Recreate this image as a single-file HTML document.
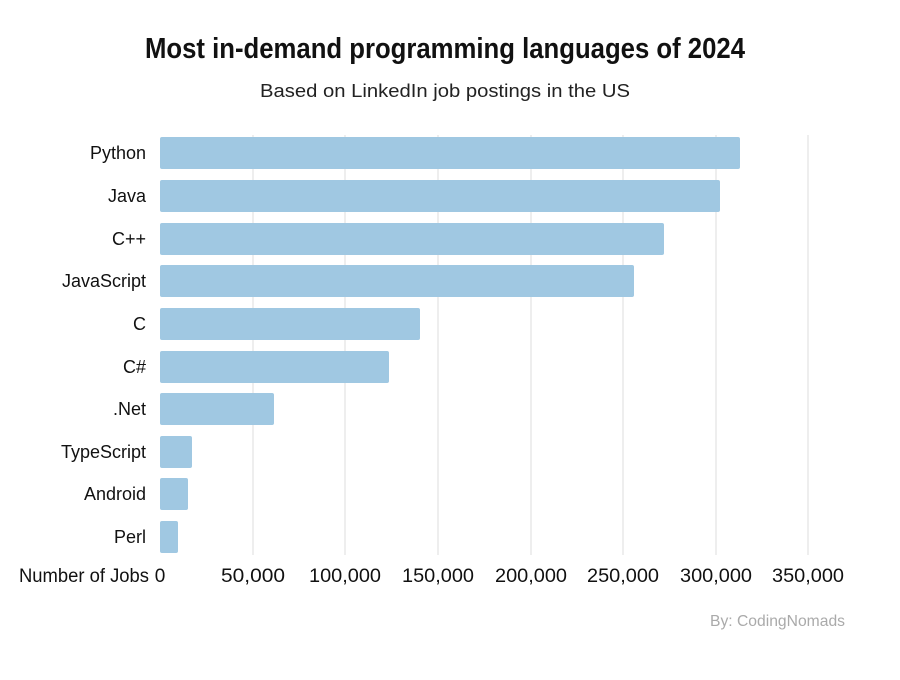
<!DOCTYPE html>
<html><head><meta charset="utf-8"><style>
body{margin:0;background:#fff;}
svg text{font-family:"Liberation Sans",sans-serif;}
</style></head><body>
<svg width="900" height="675" xmlns="http://www.w3.org/2000/svg">
<rect width="900" height="675" fill="#fff"/>
<text x="445" y="58" text-anchor="middle" font-size="29" font-weight="bold" fill="#111" textLength="600" lengthAdjust="spacingAndGlyphs">Most in-demand programming languages of 2024</text>
<text x="445" y="97" text-anchor="middle" font-size="18" fill="#222" textLength="370" lengthAdjust="spacingAndGlyphs">Based on LinkedIn job postings in the US</text>
<g stroke="#dcdcdc" stroke-width="1">
<line x1="253" y1="135" x2="253" y2="555"/><line x1="345" y1="135" x2="345" y2="555"/>
<line x1="438" y1="135" x2="438" y2="555"/><line x1="531" y1="135" x2="531" y2="555"/>
<line x1="623" y1="135" x2="623" y2="555"/><line x1="716" y1="135" x2="716" y2="555"/>
<line x1="808" y1="135" x2="808" y2="555"/>
</g>
<g fill="#a0c8e2">
<rect x="160" y="137" width="580" height="32" rx="2"/>
<rect x="160" y="180" width="560" height="32" rx="2"/>
<rect x="160" y="223" width="504" height="32" rx="2"/>
<rect x="160" y="265" width="474" height="32" rx="2"/>
<rect x="160" y="308" width="260" height="32" rx="2"/>
<rect x="160" y="351" width="229" height="32" rx="2"/>
<rect x="160" y="393" width="114" height="32" rx="2"/>
<rect x="160" y="436" width="32" height="32" rx="2"/>
<rect x="160" y="478" width="28" height="32" rx="2"/>
<rect x="160" y="521" width="18" height="32" rx="2"/>
</g>
<g font-size="18" fill="#111" text-anchor="end">
<text x="146" y="159">Python</text>
<text x="146" y="202">Java</text>
<text x="146" y="245">C++</text>
<text x="146" y="287">JavaScript</text>
<text x="146" y="330">C</text>
<text x="146" y="373">C#</text>
<text x="146" y="415">.Net</text>
<text x="146" y="458">TypeScript</text>
<text x="146" y="500">Android</text>
<text x="146" y="543">Perl</text>
</g>
<g font-size="19" fill="#111" text-anchor="middle">
<text x="19" y="582" text-anchor="start" textLength="130" lengthAdjust="spacingAndGlyphs">Number of Jobs</text>
<text x="160" y="582">0</text>
<text x="253" y="582" textLength="64" lengthAdjust="spacingAndGlyphs">50,000</text>
<text x="345" y="582" textLength="72" lengthAdjust="spacingAndGlyphs">100,000</text>
<text x="438" y="582" textLength="72" lengthAdjust="spacingAndGlyphs">150,000</text>
<text x="531" y="582" textLength="72" lengthAdjust="spacingAndGlyphs">200,000</text>
<text x="623" y="582" textLength="72" lengthAdjust="spacingAndGlyphs">250,000</text>
<text x="716" y="582" textLength="72" lengthAdjust="spacingAndGlyphs">300,000</text>
<text x="808" y="582" textLength="72" lengthAdjust="spacingAndGlyphs">350,000</text>
</g>
<text x="845" y="626" text-anchor="end" font-size="16" fill="#aaa" textLength="135" lengthAdjust="spacingAndGlyphs">By: CodingNomads</text>
</svg>
</body></html>
